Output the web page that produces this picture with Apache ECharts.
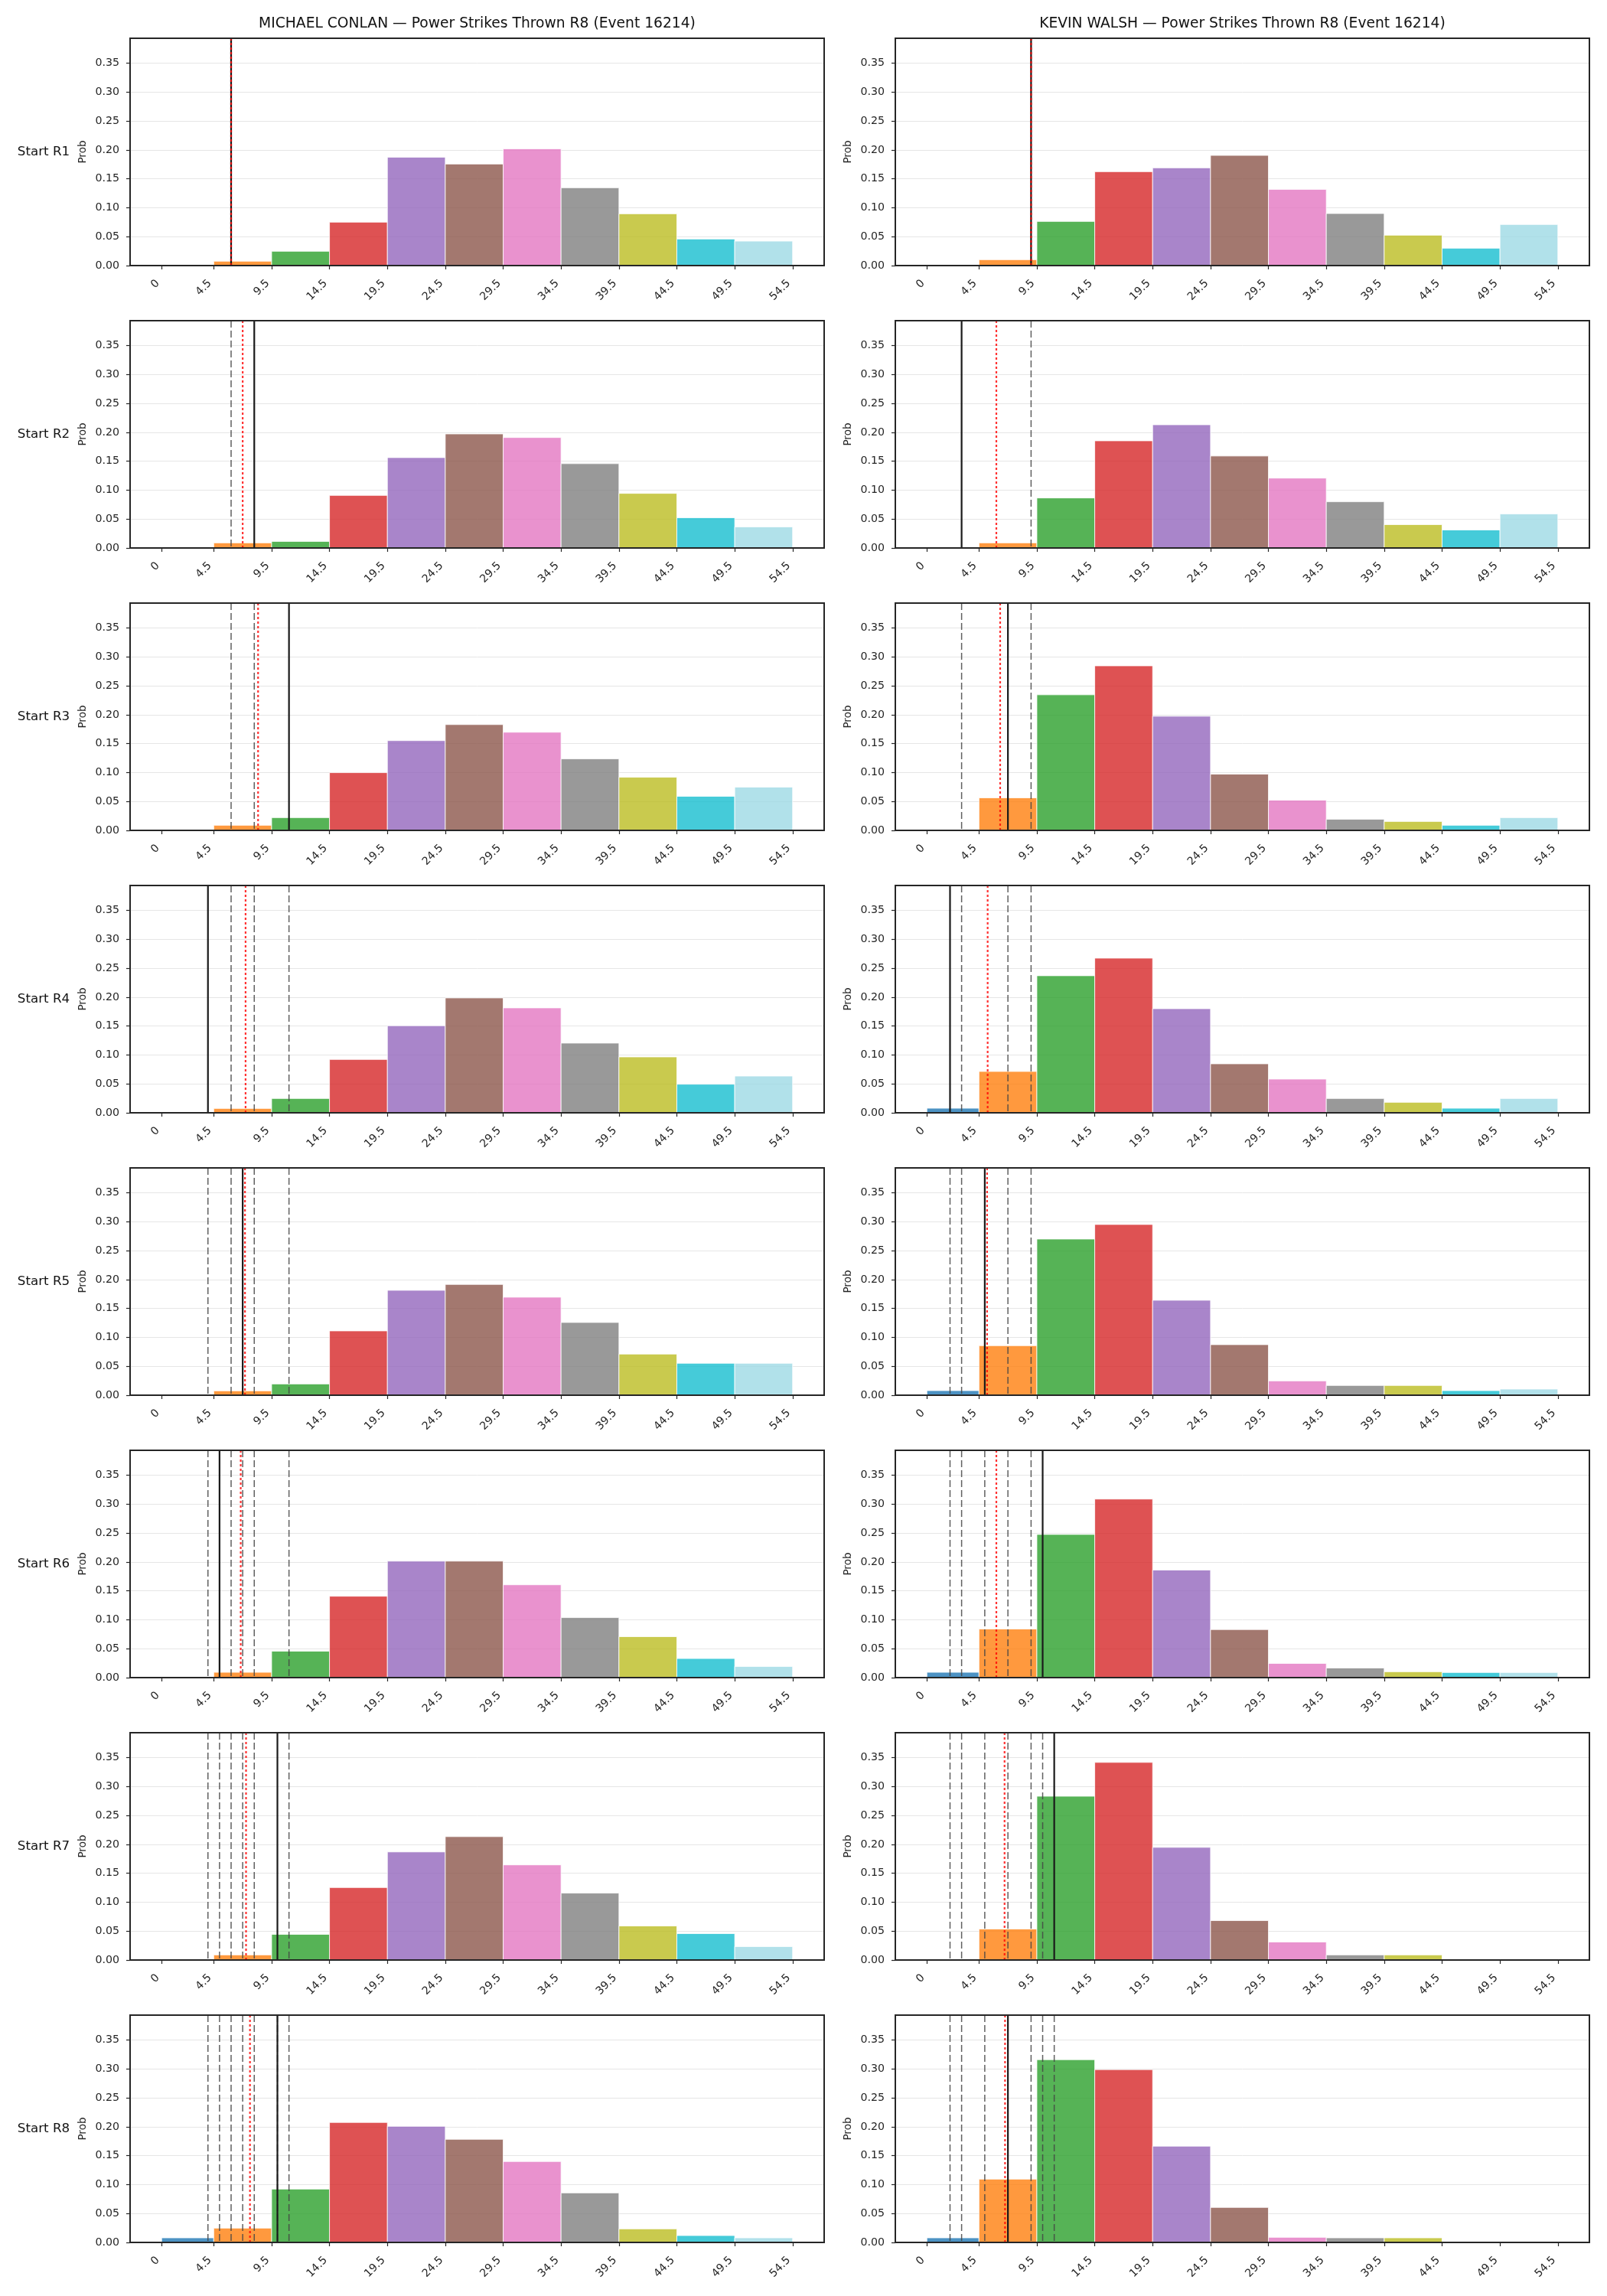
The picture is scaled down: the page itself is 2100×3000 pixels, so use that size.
<!DOCTYPE html>
<html><head><meta charset="utf-8">
<script src="https://cdn.jsdelivr.net/npm/echarts@6/dist/echarts.min.js"></script>
<style>html,body{margin:0;padding:0;background:#fff}#c{width:2100px;height:3000px}</style>
</head><body><div id="c"></div>
<script>
// ---------- data ----------
const binEdges = [0, 4.5, 9.5, 14.5, 19.5, 24.5, 29.5, 34.5, 39.5, 44.5, 49.5, 54.5];
const tickLabels = ['0', '4.5', '9.5', '14.5', '19.5', '24.5', '29.5', '34.5', '39.5', '44.5', '49.5', '54.5'];
const rounds = ['R1', 'R2', 'R3', 'R4', 'R5', 'R6', 'R7', 'R8'];
const fighterNames = ['MICHAEL CONLAN', 'KEVIN WALSH'];
const titleSuffix = ' \u2014 Power Strikes Thrown R8 (Event 16214)';

const conlanR1 = [0, 0.0075, 0.0247, 0.0750, 0.1874, 0.1755, 0.2019, 0.1345, 0.0895, 0.0459, 0.0423];
const conlanR2 = [0, 0.0088, 0.0114, 0.0909, 0.1563, 0.1972, 0.1910, 0.1458, 0.0944, 0.0523, 0.0365];
const conlanR3 = [0, 0.0088, 0.0220, 0.0998, 0.1552, 0.1829, 0.1697, 0.1236, 0.0919, 0.0589, 0.0748];
const conlanR4 = [0, 0.0075, 0.0247, 0.0922, 0.1505, 0.1986, 0.1814, 0.1205, 0.0966, 0.0494, 0.0635];
const conlanR5 = [0, 0.0075, 0.0194, 0.1112, 0.1814, 0.1915, 0.1695, 0.1258, 0.0711, 0.0552, 0.0552];
const conlanR6 = [0, 0.0092, 0.0457, 0.1407, 0.2014, 0.2014, 0.1605, 0.1038, 0.0708, 0.0330, 0.0193];
const conlanR7 = [0, 0.0088, 0.0444, 0.1253, 0.1869, 0.2133, 0.1645, 0.1157, 0.0589, 0.0457, 0.0233];
const conlanR8 = [0.0079, 0.0247, 0.0922, 0.2074, 0.2008, 0.1783, 0.1399, 0.0856, 0.0234, 0.0119, 0.0079];

const walshR1 = [0, 0.0101, 0.0763, 0.1623, 0.1689, 0.1905, 0.1318, 0.0900, 0.0525, 0.0300, 0.0710];
const walshR2 = [0, 0.0088, 0.0865, 0.1853, 0.2130, 0.1590, 0.1208, 0.0799, 0.0404, 0.0312, 0.0588];
const walshR3 = [0, 0.0563, 0.2344, 0.2845, 0.1974, 0.0972, 0.0523, 0.0193, 0.0154, 0.0088, 0.0220];
const walshR4 = [0.0079, 0.0715, 0.2370, 0.2674, 0.1800, 0.0847, 0.0583, 0.0247, 0.0181, 0.0079, 0.0247];
const walshR5 = [0.0079, 0.0856, 0.2700, 0.2952, 0.1642, 0.0874, 0.0247, 0.0168, 0.0168, 0.0079, 0.0106];
const walshR6 = [0.0092, 0.0840, 0.2476, 0.3087, 0.1860, 0.0831, 0.0246, 0.0167, 0.0101, 0.0088, 0.0088];
const walshR7 = [0, 0.0536, 0.2832, 0.3417, 0.1948, 0.0682, 0.0312, 0.0088, 0.0088, 0, 0];
const walshR8 = [0.0079, 0.1094, 0.3160, 0.2988, 0.1664, 0.0605, 0.0088, 0.0079, 0.0079, 0, 0];

// actual value per round (solid black), prior rounds shown dashed, running mean dotted red
const conlanActual = [6, 8, 11, 4, 7, 5, 10, 10];
const conlanMean = [6, 7, 8.33, 7.25, 7.2, 6.83, 7.29, 7.63];
const walshActual = [9, 3, 7, 2, 5, 10, 11, 7];
const walshMean = [9, 6, 6.33, 5.25, 5.2, 6.0, 6.71, 6.75];

const conlanProbs = [conlanR1, conlanR2, conlanR3, conlanR4, conlanR5, conlanR6, conlanR7, conlanR8];
const walshProbs = [walshR1, walshR2, walshR3, walshR4, walshR5, walshR6, walshR7, walshR8];

// ---------- styles / layout ----------
const binColors = ['#1f77b4', '#ff7f0e', '#2ca02c', '#d62728', '#9467bd', '#8c564b', '#e377c2', '#7f7f7f', '#bcbd22', '#17becf', '#9edae5'];
const lineKinds = [
  { color: '#444444', width: 1.5, dash: [9, 4], opacity: 0.85 },   // previous rounds
  { color: '#1a1a1a', width: 2.2, dash: null, opacity: 1 },         // actual
  { color: '#ff0000', width: 2.2, dash: [3, 3], opacity: 0.8 }      // mean
];
const FONT = 'DejaVu Sans';
const TXT = '#262626';
const X_MIN = -2.725, X_MAX = 57.225, Y_MAX = 0.393;
const colLeft = [170, 1170], gridW = 907, rowTop0 = 50, rowStep = 369, gridH = 297;

const grids = [], xAxes = [], yAxes = [], series = [], graphics = [];
const sides = [
  { probs: conlanProbs, actual: conlanActual, mean: conlanMean },
  { probs: walshProbs, actual: walshActual, mean: walshMean }
];

for (let r = 0; r < rounds.length; r++) {
  for (let c = 0; c < 2; c++) {
    const gi = r * 2 + c;
    const top = rowTop0 + r * rowStep;
    grids.push({
      left: colLeft[c], top: top, width: gridW, height: gridH,
      show: true, borderColor: TXT, borderWidth: 2, backgroundColor: 'transparent',
      containLabel: false, outerBoundsMode: 'none', z: 5
    });
    xAxes.push({
      gridIndex: gi, type: 'value', min: X_MIN, max: X_MAX,
      axisLine: { show: false, onZero: false },
      axisTick: { show: true, customValues: binEdges, length: 5, lineStyle: { color: TXT, width: 1.2 } },
      axisLabel: {
        customValues: binEdges, rotate: 45, margin: 26, verticalAlign: 'bottom',
        fontSize: 14.2, fontFamily: FONT, color: TXT,
        formatter: function (v) { const i = binEdges.indexOf(v); return i >= 0 ? tickLabels[i] : ''; }
      },
      splitLine: { show: false }
    });
    yAxes.push({
      gridIndex: gi, type: 'value', min: 0, max: Y_MAX, interval: 0.05,
      axisLine: { show: false, onZero: false },
      axisTick: { show: true, length: 5, lineStyle: { color: TXT, width: 1.2 } },
      axisLabel: { showMaxLabel: false, margin: 14, fontSize: 14.2, fontFamily: FONT, color: TXT,
        formatter: function (v) { return v.toFixed(2); } },
      splitLine: { show: true, lineStyle: { color: '#e6e6e6', width: 1 } },
      name: 'Prob', nameLocation: 'middle', nameGap: 55, nameRotate: 90,
      nameTextStyle: { fontSize: 13.6, fontFamily: FONT, color: TXT }
    });

    const side = sides[c];
    const probs = side.probs[r];
    const barData = [];
    for (let b = 0; b < probs.length; b++) {
      if (probs[b] > 0) barData.push([binEdges[b], binEdges[b + 1], probs[b], b]);
    }
    series.push({
      type: 'custom', xAxisIndex: gi, yAxisIndex: gi, coordinateSystem: 'cartesian2d',
      silent: true, animation: false, z: 2,
      encode: { x: [0, 1], y: 2 },
      data: barData,
      renderItem: function (params, api) {
        const p0 = api.coord([api.value(0), api.value(2)]);
        const p1 = api.coord([api.value(1), 0]);
        return {
          type: 'rect',
          shape: { x: p0[0], y: p0[1], width: p1[0] - p0[0], height: p1[1] - p0[1] },
          style: { fill: binColors[api.value(3)], opacity: 0.8, stroke: '#ffffff', lineWidth: 1 }
        };
      }
    });

    const lineData = [];
    for (let k = 0; k < r; k++) lineData.push([side.actual[k], 0, 0]);
    lineData.push([side.actual[r], 0, 1]);
    lineData.push([side.mean[r], 0, 2]);
    series.push({
      type: 'custom', xAxisIndex: gi, yAxisIndex: gi, coordinateSystem: 'cartesian2d',
      silent: true, animation: false, z: 3,
      encode: { x: 0, y: 1 },
      data: lineData,
      renderItem: function (params, api) {
        const p = api.coord([api.value(0), 0]);
        const cs = params.coordSys;
        const st = lineKinds[api.value(2)];
        const style = { stroke: st.color, lineWidth: st.width, opacity: st.opacity };
        if (st.dash) style.lineDash = st.dash;
        return {
          type: 'line',
          shape: { x1: p[0], y1: cs.y, x2: p[0], y2: cs.y + cs.height },
          style: style
        };
      }
    });

    if (c === 0) {
      graphics.push({
        type: 'text', x: 57, y: top + gridH / 2,
        style: { text: 'Start ' + rounds[r], align: 'center', verticalAlign: 'middle',
          font: '16.7px "' + FONT + '"', fill: '#111' }
      });
    }
  }
}
for (let c = 0; c < 2; c++) {
  graphics.push({
    type: 'text', x: colLeft[c] + gridW / 2, y: 31,
    style: { text: fighterNames[c] + titleSuffix, align: 'center', verticalAlign: 'middle',
      font: '18.7px "' + FONT + '"', fill: '#111' }
  });
}

const chart = echarts.init(document.getElementById('c'), null, { renderer: 'canvas' });
chart.setOption({
  backgroundColor: '#ffffff',
  animation: false,
  grid: grids, xAxis: xAxes, yAxis: yAxes, series: series,
  graphic: graphics
});
</script></body></html>
